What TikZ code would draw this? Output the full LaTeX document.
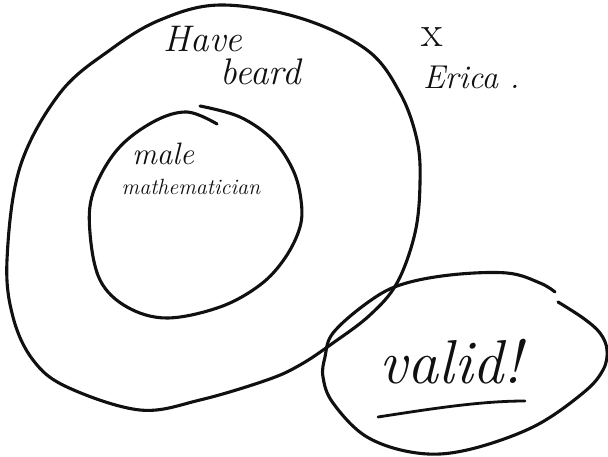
\documentclass[tikz,border=0pt]{standalone}
\usepackage{xcolor}
\usepackage{tikz}
\usetikzlibrary{positioning}
\definecolor{ink}{HTML}{101010}
\definecolor{paper}{HTML}{FFFFFF}
\tikzset{
  setline/.style={
    draw=ink, line width=3.1pt,
    line cap=round, line join=round
  },
  handtext/.style={
    font=\itshape\fontsize{#1}{#1}\selectfont,
    text=ink, inner sep=0pt
  },
  handtext/.default=30,
  uline/.style={
    draw=ink, line width=2.8pt, line cap=round
  },
}

\begin{document}
\begin{tikzpicture}[x=1pt, y=-1pt]

\useasboundingbox[fill=paper] (0,0) rectangle (608,457);

% OUTER SET: have beard
\draw[setline] plot[smooth cycle, tension=0.6] coordinates {
  (220,5) (300,18) (367,50) (400,93) (417,140) (420,183) (415,233)
  (397,283) (370,315) (333,343) (300,365) (267,380) (200,400)
  (140,410) (67,387) (33,360) (13,317) (7,260) (20,167) (60,93)
  (110,50) (160,20)};

% INNER SET: male mathematician (stroke runs past its start)
\draw[setline] plot[smooth, tension=0.6] coordinates {
  (200,106) (240,117) (273,140) (293,170) (301,200) (300,227)
  (285,258) (260,285) (220,307) (167,318) (127,307) (100,280)
  (90,233) (93,193) (117,150) (153,122) (187,112) (217,124)};

% CONCLUSION BLOB (small gap at top right)
\draw[setline] plot[smooth, tension=0.6] coordinates {
  (558,302) (583,318) (600,333) (607,350) (603,370) (583,393)
  (533,427) (467,450) (417,453) (367,437) (333,403) (323,377)
  (325,357) (333,333) (367,303) (400,285) (450,275) (507,273)
  (540,283) (555,292)};

% Labels
\node[handtext=37, anchor=base] (have) at (203,52) {Have};
\node[handtext=37, below right=6pt and -22pt of have] (beard) {beard};

\node[handtext=31, anchor=base] (male) at (163,165) {male};
\node[handtext=22, below=14pt of male, xshift=28pt] (mathem) {mathematician};

\node[handtext=44, font=\upshape\fontsize{44}{44}\selectfont, anchor=base] (cross) at (432,47) {x};
\node[handtext=33, below right=19pt and -20pt of cross] (erica) {Erica .};

\node[handtext=62, anchor=base] (valid) at (451,383) {valid!};
\draw[uline] (378,417) .. controls (430,409) and (480,401) .. (525,401);

\end{tikzpicture}
\end{document}
